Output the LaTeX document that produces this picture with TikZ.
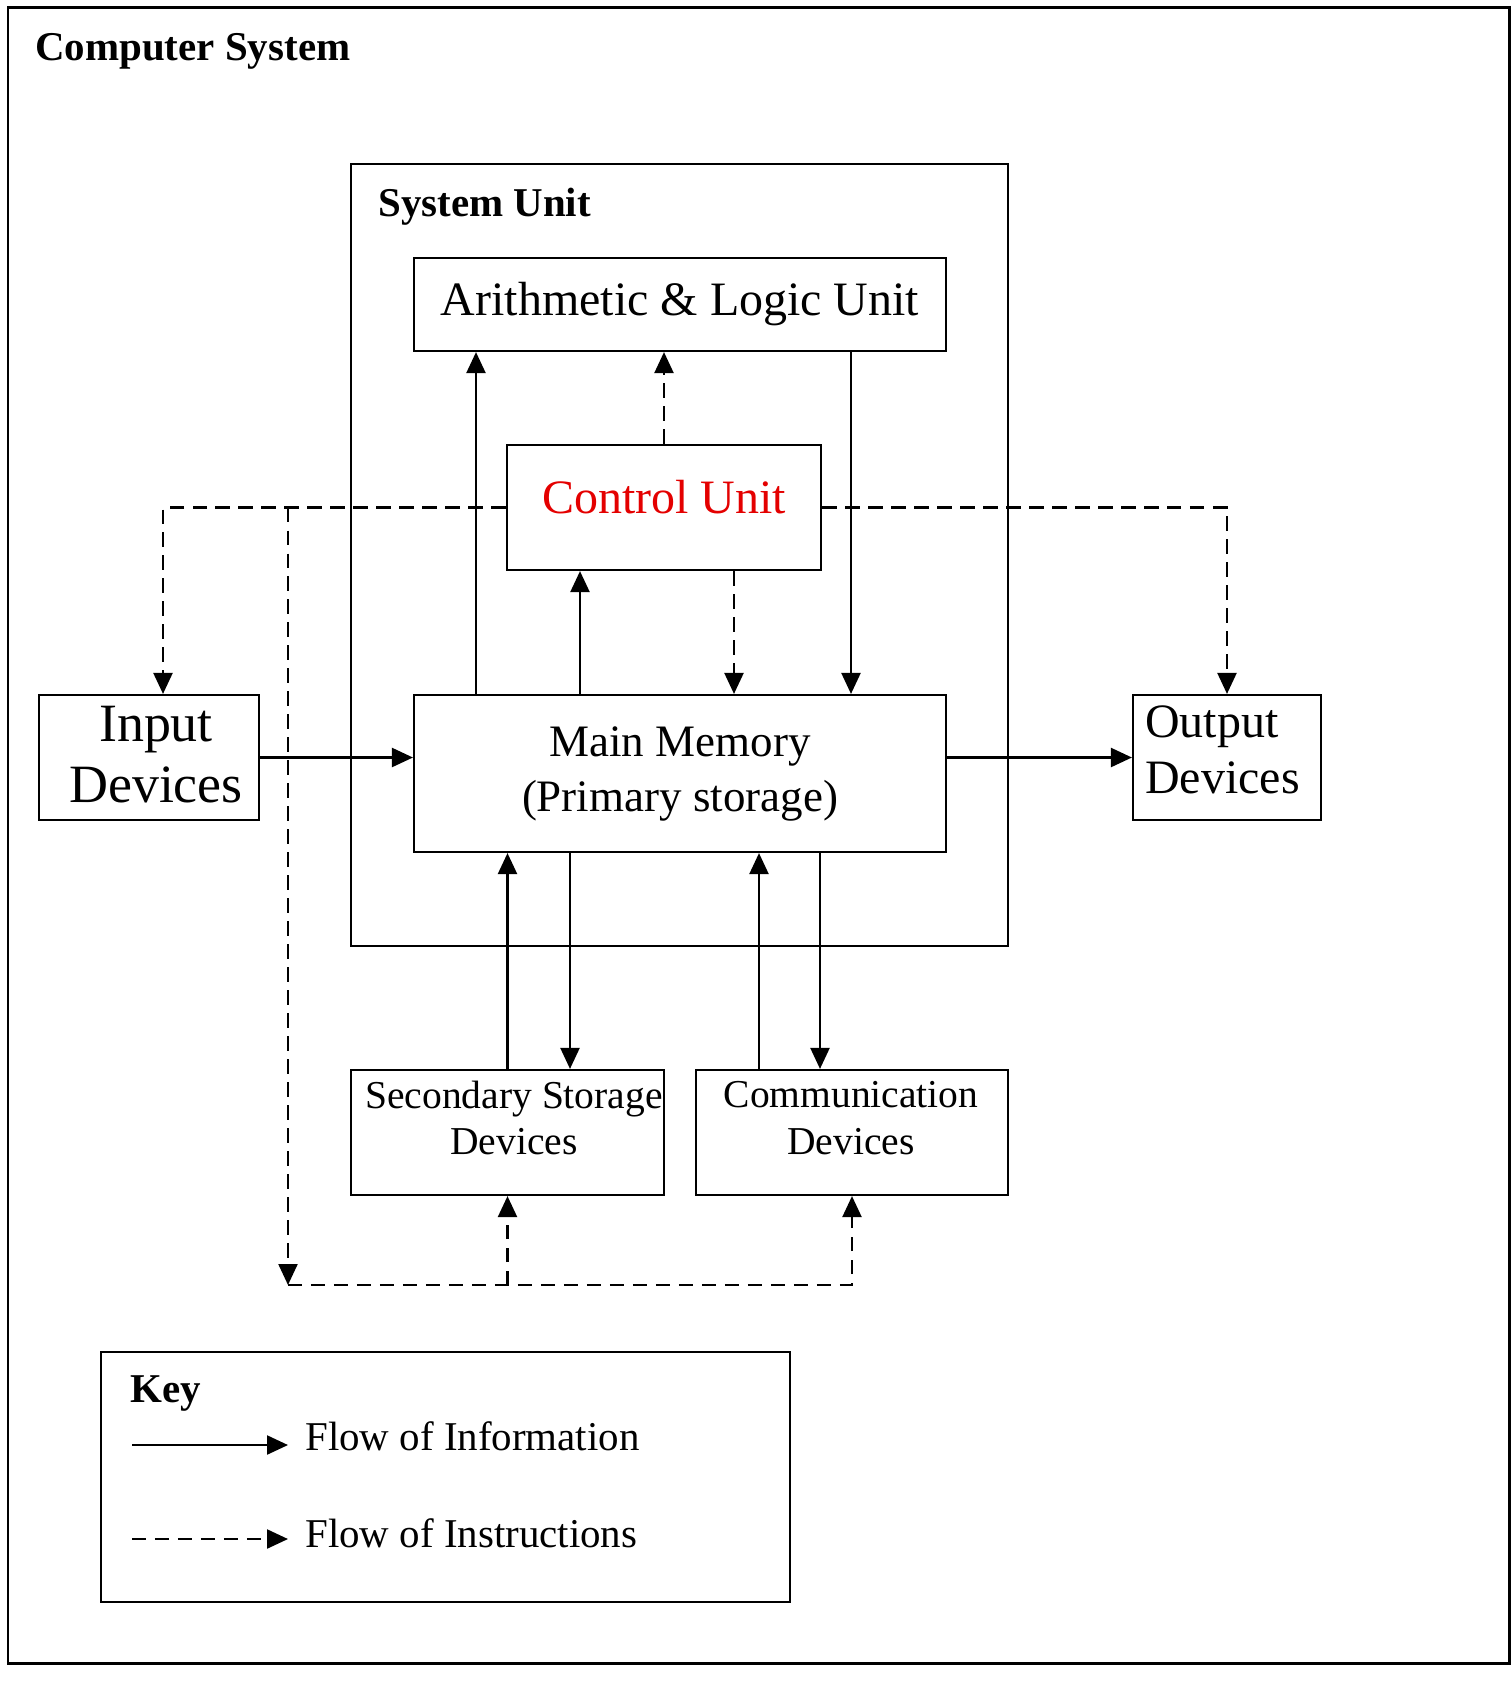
\documentclass[tikz,border=0pt]{standalone}
\usepackage{fontspec}
\setmainfont{Liberation Serif}
\usetikzlibrary{arrows.meta}
\definecolor{CtrlRed}{RGB}{228,0,0}
\tikzset{
  flow/.style={-{Triangle[length=0.42cm,width=0.38cm]},line width=1.3pt},
  dashflow/.style={-{Triangle[length=0.42cm,width=0.38cm]},line width=1.3pt,
    dash pattern=on 0.29cm off 0.17cm},
  unitbox/.style={draw,line width=1.25pt,inner sep=0pt,align=center},
  framebox/.style={draw,line width=1.25pt},
  title/.style={anchor=base west,inner sep=0pt,font=\fontsize{23.3}{28}\selectfont\bfseries},
  keytext/.style={anchor=base west,inner sep=0pt,font=\fontsize{23.3}{28}\selectfont},
  boxtext/.style={inner sep=0pt,align=center}
}

\begin{document}
\begin{tikzpicture}[x=0.02cm,y=-0.02cm]
  \useasboundingbox (0,0) rectangle (1511,1685);
  % frames
  \draw[framebox,line width=1.7pt] (8,7) rectangle (1509,1663);
  \draw[framebox] (351,164) rectangle (1008,946);
  \draw[framebox] (101,1352) rectangle (790,1602);
  \node[title] (cstitle) at (35,60) {Computer System};
  \node[title] (sutitle) at (378,216) {System Unit};

  % units
  \node[unitbox,minimum width=10.64cm,minimum height=1.86cm,
    font=\fontsize{27.3}{32}\selectfont] (alu) at (680,304.5) {Arithmetic \& Logic Unit};
  \node[unitbox,minimum width=6.28cm,minimum height=2.5cm] (cu) at (664,507.5) {};
  \node[boxtext,text=CtrlRed,font=\fontsize{27.3}{32}\selectfont] (cutext) at (664,497) {Control Unit};
  \node[unitbox,minimum width=10.64cm,minimum height=3.14cm,
    font=\fontsize{25.6}{31.3}\selectfont] (mm) at (680,773.5) {Main Memory\\(Primary storage)};
  \node[unitbox,minimum width=4.4cm,minimum height=2.5cm] (in) at (149,757.5) {};
  \node[boxtext,font=\fontsize{30.7}{34.7}\selectfont] (intext) at (156,755) {Input\\Devices};
  \node[unitbox,minimum width=3.76cm,minimum height=2.5cm] (out) at (1227,757.5) {};
  \node[boxtext,anchor=west,align=left,font=\fontsize{27.3}{31.9}\selectfont]
    (outtext) at (1145,749.5) {Output\\Devices};
  \node[unitbox,minimum width=6.26cm,minimum height=2.5cm] (sec) at (507.5,1132.5) {};
  \node[boxtext,font=\fontsize{22.5}{26.7}\selectfont] (sectext) at (514,1118)
    {Secondary Storage\\Devices};
  \node[unitbox,minimum width=6.24cm,minimum height=2.5cm] (com) at (852,1132.5) {};
  \node[boxtext,font=\fontsize{22.5}{26.7}\selectfont] (comtext) at (851,1118)
    {Communication\\Devices};

  % columns for the links
  \coordinate (xalu) at (476,0);
  \coordinate (xcu) at (580,0);
  \coordinate (xcud) at (734,0);
  \coordinate (xalud) at (851,0);
  \coordinate (xin) at (163,0);
  \coordinate (xsecd) at (570,0);
  \coordinate (xcomu) at (759,0);
  \coordinate (xcomd) at (820,0);
  \coordinate (bend) at (288,1285);

  % information
  \draw[flow] (mm.north -| xalu) -- (alu.south -| xalu);
  \draw[flow] (alu.south -| xalud) -- (mm.north -| xalud);
  \draw[flow] (mm.north -| xcu) -- (cu.south -| xcu);
  \draw[flow] (in.east) -- (in.east -| mm.west);
  \draw[flow] (mm.east |- out.west) -- (out.west);
  \draw[flow] (sec.north) -- (sec.north |- mm.south);
  \draw[flow] (mm.south -| xsecd) -- (sec.north -| xsecd);
  \draw[flow] (com.north -| xcomu) -- (mm.south -| xcomu);
  \draw[flow] (mm.south -| xcomd) -- (com.north -| xcomd);

  % instructions
  \draw[dashflow] (cu.north) -- (cu.north |- alu.south);
  \draw[dashflow] (cu.south -| xcud) -- (mm.north -| xcud);
  \draw[dashflow] (cu.west) -| (in.north -| xin);
  \draw[dashflow] (cu.east) -| (out.north);
  \draw[dashflow] (cu.west -| bend) -- (bend);
  \draw[dashflow] (bend) -| (com.south);
  \draw[dashflow] (bend -| sec.south) -- (sec.south);

  % key
  \node[title] (keytitle) at (130,1402) {Key};
  \node[keytext] (info) at (305,1450) {Flow of Information};
  \node[keytext] (instr) at (305,1547) {Flow of Instructions};
  \coordinate (k1) at (132,1445);
  \coordinate (k1e) at (288,1445);
  \coordinate (k2) at (132,1539);
  \coordinate (k2e) at (288,1539);
  \draw[flow] (k1) -- (k1e);
  \draw[dashflow] (k2) -- (k2e);
\end{tikzpicture}
\end{document}
